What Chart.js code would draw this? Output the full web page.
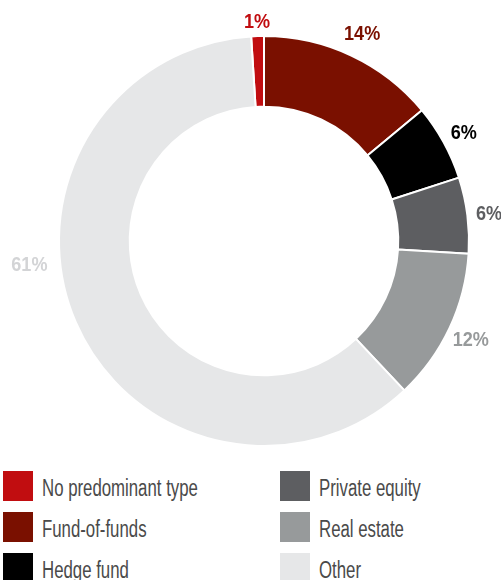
<!DOCTYPE html>
<html>
<head>
<meta charset="utf-8">
<script src="https://cdn.jsdelivr.net/npm/chart.js@4/dist/chart.umd.min.js"></script>
<style>
  html, body { margin: 0; padding: 0; background: #fff; }
  #wrap { position: relative; width: 501px; height: 580px; }
  #chart-box { position: absolute; left: 0; top: 0; width: 501px; height: 460px; }
  #legend { position: absolute; left: 3px; top: 471px; width: 498px;
    display: grid; grid-template-columns: 277px 1fr; grid-auto-flow: column; grid-template-rows: repeat(3, 41px);
    font-family: "Liberation Sans", Arial, sans-serif; font-size: 23px; color: #4a4a4a; }
  #legend .item { display: flex; align-items: flex-start; height: 41px; overflow: visible; }
  #legend .sw { width: 30px; height: 30px; flex: none; margin-right: 9px; }
  /* narrow the face to a condensed look */
  #legend .lbl { line-height: 34px; white-space: nowrap; display: inline-block; transform: scaleX(0.73); transform-origin: 0 50%; }
</style>
</head>
<body>
<div id="wrap">
  <div id="chart-box"><canvas id="fundTypeChart"></canvas></div>
  <div id="legend"></div>
</div>
<script>
(function(){
  var categories = ['No predominant type','Fund-of-funds','Hedge fund','Private equity','Real estate','Other'];
  var shares = [1, 14, 6, 6, 12, 61];
  var sliceColors = ['#c10d10','#7a1000','#000000','#5d5e61','#979a9b','#e6e7e8'];
  var labelColors = ['#c10d10','#7a1000','#000000','#5d5e61','#979a9b','#d3d4d6'];

  // value labels outside the ring, pushed out by half the text box so they clear the edge;
  // the big "Other" slice gets its label on the left side
  var outsideLabels = {
    id: 'outsideLabels',
    afterDatasetsDraw: function(chart, args, opts){
      var ctx = chart.ctx;
      var meta = chart.getDatasetMeta(0);
      var squeeze = 0.86, capH = 15;
      ctx.save();
      ctx.font = 'bold 21px "Liberation Sans", Arial, sans-serif';
      ctx.textAlign = 'center';
      ctx.textBaseline = 'alphabetic';
      meta.data.forEach(function(arc, i){
        var p = arc.getProps(['x','y','startAngle','endAngle','outerRadius'], true);
        var mid = (p.startAngle + p.endAngle) / 2;
        if (opts.angleOverride && opts.angleOverride[i] != null) mid = opts.angleOverride[i] * Math.PI / 180;
        var txt = shares[i] + '%';
        var w = ctx.measureText(txt).width * squeeze;
        var extra = (opts.extraOffset && opts.extraOffset[i]) || 0;
        var r = p.outerRadius + opts.offset + extra + Math.abs(Math.cos(mid)) * w / 2 + Math.abs(Math.sin(mid)) * capH / 2;
        var x = p.x + Math.cos(mid) * r, y = p.y + Math.sin(mid) * r;
        ctx.save();
        ctx.translate(x, y + capH / 2);
        ctx.scale(squeeze, 1);
        ctx.fillStyle = labelColors[i];
        ctx.fillText(txt, 0, 0);
        ctx.restore();
      });
      ctx.restore();
    }
  };

  var canvas = document.getElementById('fundTypeChart');
  new Chart(canvas, {
    type: 'doughnut',
    data: {
      labels: categories,
      datasets: [{ data: shares, backgroundColor: sliceColors, borderColor: '#ffffff', borderWidth: 2 }]
    },
    options: {
      responsive: true,
      maintainAspectRatio: false,
      animation: false,
      cutout: '65.5%',
      rotation: -3.6,
      layout: { padding: { top: 35, bottom: 13, left: 58, right: 31 } },
      plugins: {
        legend: { display: false },
        tooltip: { enabled: false },
        outsideLabels: { offset: 8, angleOverride: { 5: 174.5 }, extraOffset: { 0: 0, 1: 3, 4: -4, 5: 4 } }
      }
    },
    plugins: [outsideLabels]
  });

  // two-column legend below the ring
  var legend = document.getElementById('legend');
  categories.forEach(function(name, i){
    var item = document.createElement('div');
    item.className = 'item';
    var sw = document.createElement('span');
    sw.className = 'sw';
    sw.style.background = sliceColors[i];
    var lbl = document.createElement('span');
    lbl.className = 'lbl';
    lbl.textContent = name;
    item.appendChild(sw);
    item.appendChild(lbl);
    legend.appendChild(item);
  });
})();
</script>
</body>
</html>
